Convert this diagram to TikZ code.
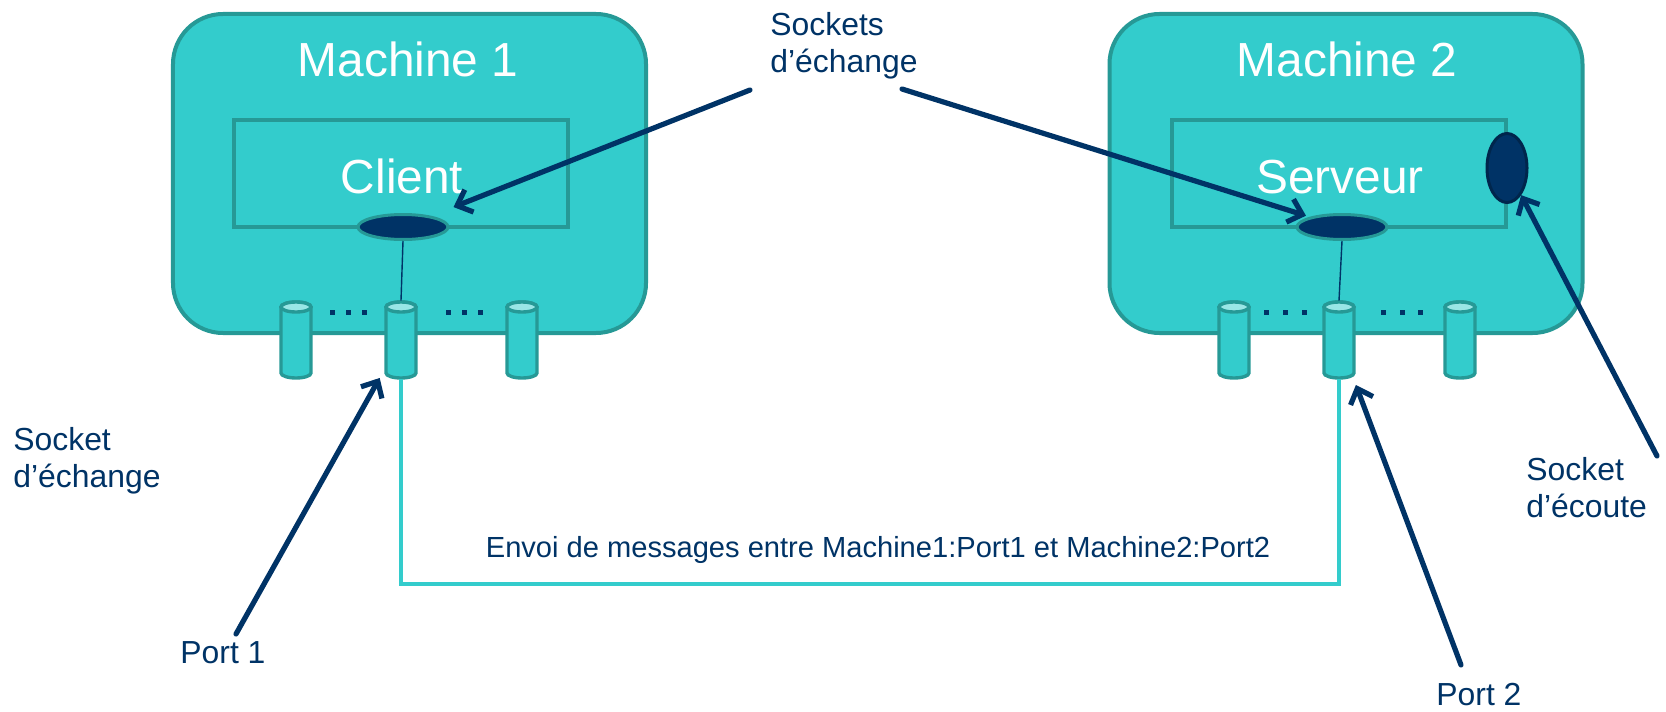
\documentclass[tikz,border=0pt]{standalone}
\usepackage{fontspec}
\setmainfont{Liberation Sans}
\usetikzlibrary{shapes.geometric,arrows.meta}
\definecolor{turq}{RGB}{51,204,204}
\definecolor{turqdark}{RGB}{38,153,150}
\definecolor{marine}{RGB}{0,51,102}
\newcommand{\port}[2]{%
  \node[portbox] (#1) at (#2,340) {};
  \begin{scope}[shift={(#2,340)}]
    \filldraw[portline] (-15,-33) -- (-15,33) arc[start angle=180,end angle=0,x radius=15,y radius=5]
      -- (15,-33) arc[start angle=0,end angle=-180,x radius=15,y radius=5] -- cycle;
    \filldraw[portline,fill=turq!50!white] (0,-33) ellipse[x radius=15,y radius=5];
  \end{scope}}
\tikzset{
  machine/.style={draw=turqdark,fill=turq,line width=2bp,rounded corners=25bp,minimum width=236.5bp,minimum height=159.5bp},
  app/.style={draw=turqdark,line width=2bp,minimum width=167bp,minimum height=53.5bp},
  sock/.style={ellipse,draw=turqdark,fill=marine,line width=1.5bp,inner sep=0pt,minimum width=45bp,minimum height=12.5bp},
  listen/.style={ellipse,draw=marine!75!black,fill=marine,line width=1.5bp,inner sep=0pt,minimum width=20bp,minimum height=34.5bp},
  portbox/.style={inner sep=0pt,minimum width=17bp,minimum height=39bp},
  portline/.style={draw=turqdark,fill=turq,line width=1.7bp},
  big/.style={text=white,font=\fontsize{24}{28}\selectfont,anchor=base,inner sep=0pt},
  lbl/.style={text=marine,font=\fontsize{16}{18.5}\selectfont,align=left,inner sep=0pt},
  ptr/.style={draw=marine,line width=2.6bp,line cap=round,-{Straight Barb[length=6.5bp,width=12bp]}},
  wire/.style={draw=marine,line width=0.7bp},
  link/.style={draw=turq,line width=2bp}
}
\begin{document}
\begin{tikzpicture}[x=0.5bp,y=-0.5bp]
\useasboundingbox (0,0) rectangle (1666,712);
\node[machine] (m1) at (409.5,173.5) {};
\node[machine] (m2) at (1346,173.5) {};
\node[big] (m1t) at (408,77) {Machine 1};
\node[big] (m2t) at (1347,77) {Machine 2};
\node[app] (cli) at (401,173.5) {};
\node[app] (srv) at (1339,173.5) {};
\node[big] (clit) at (402,193) {Client};
\node[big] (srvt) at (1340,193) {Serveur};
\node[sock] (s1) at (403,227) {};
\node[sock] (s2) at (1342,227) {};
\node[listen] (ls) at (1507,168) {};
\port{p11}{296} \port{p12}{401} \port{p13}{522}
\port{p21}{1234} \port{p22}{1339} \port{p23}{1460}
\foreach \x in {332,348,364,448,464,480,1266,1285,1304,1383,1402,1420}
  \fill[marine] (\x-2.5,309.5) rectangle ++(5,5);
\draw[wire] (s1.south) -- (p12.north);
\draw[wire] (s2.south) -- (p22.north);
\draw[link] (p12.south) -- ++(0,205) -| (p22.south);
\node[text=marine,font=\fontsize{14.6}{17}\selectfont,anchor=base,inner sep=0pt] (msg) at (878,557)
  {Envoi de messages entre Machine1:Port1 et Machine2:Port2};
\node[lbl,anchor=north west] (lx) at (770,12) {Sockets\\d’échange};
\node[lbl,anchor=north west] (lxl) at (13,427) {Socket\\d’échange};
\node[lbl,anchor=north west] (le) at (1526,457) {Socket\\d’écoute};
\node[lbl,anchor=base west] (lp1) at (180,663) {Port 1};
\node[lbl,anchor=base west] (lp2) at (1436,705) {Port 2};
\coordinate (t1) at (750,90);
\coordinate (t2) at (902,89);
\coordinate (t3) at (236,634);
\coordinate (t4) at (1461,665);
\coordinate (t5) at (1657,456);
\draw[ptr,shorten >=12bp] (t1) -- (s1);
\draw[ptr,shorten >=2bp] (t2) -- (s2);
\draw[ptr,shorten >=4bp] (t3) -- (p12);
\draw[ptr,shorten >=3bp] (t4) -- (p22);
\draw[ptr] (t5) -- (ls);
\end{tikzpicture}
\end{document}
